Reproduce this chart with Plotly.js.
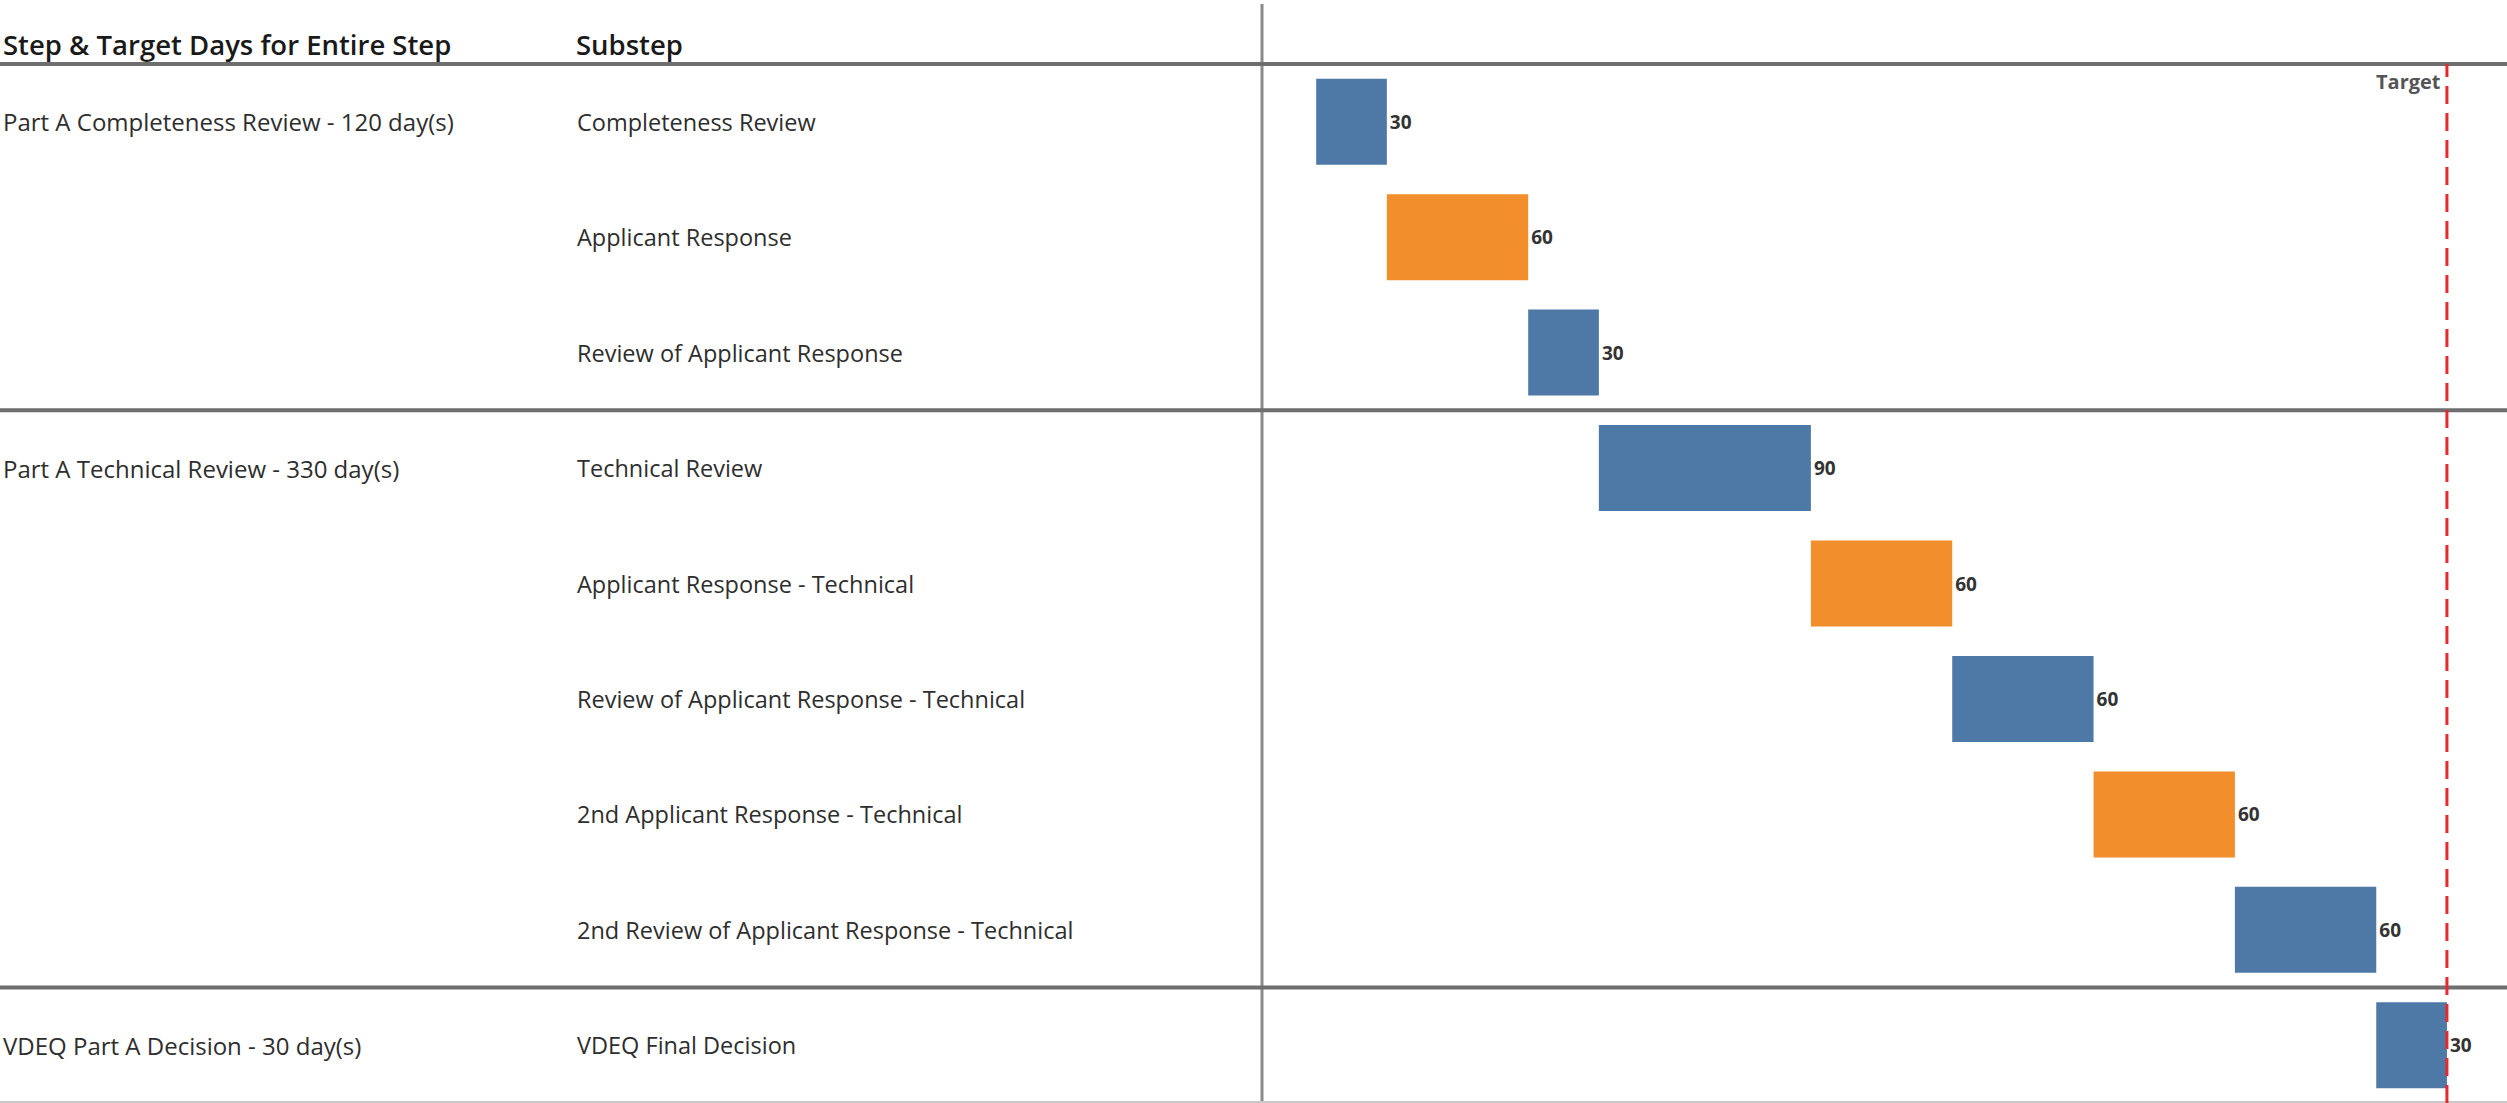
<!DOCTYPE html>
<html>
<head>
<meta charset="utf-8">
<script src="https://cdn.plot.ly/plotly-3.0.1.min.js"></script>
<style>
html,body{margin:0;padding:0;background:#fff;}
#chart{width:2507px;height:1103px;}
</style>
</head>
<body>
<div id="chart"></div>
<script>
// ---- data ----
const steps = ["Part A Completeness Review - 120 day(s)", "Part A Technical Review - 330 day(s)", "VDEQ Part A Decision - 30 day(s)"];
const stepTargetDays = [120, 330, 30];
const stepSubstepCounts = [3, 5, 1];
const substeps = [
  "Completeness Review",
  "Applicant Response",
  "Review of Applicant Response",
  "Technical Review",
  "Applicant Response - Technical",
  "Review of Applicant Response - Technical",
  "2nd Applicant Response - Technical",
  "2nd Review of Applicant Response - Technical",
  "VDEQ Final Decision"
];
const durations = [30, 60, 30, 90, 60, 60, 60, 60, 30];
const actor = ["DEQ", "Applicant", "DEQ", "DEQ", "Applicant", "DEQ", "Applicant", "DEQ", "DEQ"];
const headers = ["Step & Target Days for Entire Step", "Substep"];
const targetLabel = "Target";

// ---- derived ----
const starts = [];
let acc = 0;
durations.forEach(d => { starts.push(acc); acc += d; });
const target = stepTargetDays.reduce((a, b) => a + b, 0);
const colorMap = {DEQ: "#4e79a7", Applicant: "#f28e2b"};
const FONT = "Open Sans";
const W = 2507, H = 1103, L = 1262, T = 64;
const plotW = W - L, plotH = H - T;
const n = substeps.length;
const pxX = px => (px - L) / plotW;        // pixel -> paper x
const pxY = py => 1 - (py - T) / plotH;    // pixel -> paper y

const trace = {
  type: "bar",
  orientation: "h",
  y: substeps,
  x: durations,
  base: starts,
  width: 0.745,
  marker: {color: actor.map(a => colorMap[a]), line: {width: 0}},
  text: durations.map(String),
  textposition: "outside",
  constraintext: "none",
  cliponaxis: false,
  textfont: {family: FONT, size: 19, color: "#333333", weight: 700},
  hoverinfo: "none"
};

const annotations = [];
// headers
annotations.push({xref: "paper", yref: "paper", x: pxX(1), y: pxY(45), xanchor: "left", yanchor: "middle",
  text: headers[0], showarrow: false, font: {family: FONT, size: 27.5, color: "#1a1a1a", weight: 600}});
annotations.push({xref: "paper", yref: "paper", x: pxX(574), y: pxY(45), xanchor: "left", yanchor: "middle",
  text: headers[1], showarrow: false, font: {family: FONT, size: 27.5, color: "#1a1a1a", weight: 600}});
// substep labels
substeps.forEach(s => annotations.push({xref: "paper", yref: "y", x: pxX(575), y: s, xanchor: "left", yanchor: "middle",
  text: s, showarrow: false, font: {family: FONT, size: 23.5, color: "#2e2e2e"}}));
// step labels
let row = 0;
steps.forEach((s, i) => {
  annotations.push({xref: "paper", yref: "y", x: pxX(1), y: substeps[row], xanchor: "left", yanchor: "middle",
    text: s, showarrow: false, font: {family: FONT, size: 24, color: "#2e2e2e"}});
  row += stepSubstepCounts[i];
});
// target label
annotations.push({xref: "x", yref: "paper", x: target, y: 1, xanchor: "right", yanchor: "top", xshift: -4, yshift: -2,
  text: targetLabel, showarrow: false, font: {family: FONT, size: 20, color: "#555555", weight: 700}});

const shapes = [];
// vertical divider
shapes.push({type: "line", xref: "paper", yref: "paper", x0: 0, x1: 0, y0: 0, y1: pxY(4), line: {color: "#8a8a8a", width: 3}, layer: "above"});
// header line
shapes.push({type: "line", xref: "paper", yref: "paper", x0: pxX(0), x1: 1, y0: 1, y1: 1, line: {color: "#6e6e6e", width: 4}, layer: "above"});
// section separators
let cum = 0;
stepSubstepCounts.slice(0, -1).forEach(c => {
  cum += c;
  const yp = 1 - cum / n;
  shapes.push({type: "line", xref: "paper", yref: "paper", x0: pxX(0), x1: 1, y0: yp, y1: yp, line: {color: "#6e6e6e", width: 4}, layer: "above"});
});
// bottom line
shapes.push({type: "line", xref: "paper", yref: "paper", x0: pxX(0), x1: 1, y0: pxY(1102), y1: pxY(1102), line: {color: "#c8c8c8", width: 2}, layer: "above"});
// target line
shapes.push({type: "line", xref: "x", yref: "paper", x0: target, x1: target, y0: 0, y1: 1, line: {color: "#e8282f", width: 3, dash: "18px,9px"}, layer: "above"});

const layout = {
  width: W, height: H,
  margin: {l: L, r: 0, t: T, b: 0, pad: 0},
  paper_bgcolor: "#ffffff", plot_bgcolor: "#ffffff",
  showlegend: false,
  xaxis: {range: [-23, 505.5], showgrid: false, zeroline: false, showticklabels: false, ticks: "", showline: false, fixedrange: true},
  yaxis: {type: "category", categoryorder: "array", categoryarray: substeps, range: [n - 0.5, -0.5], showgrid: false, zeroline: false,
    showticklabels: false, ticks: "", showline: false, fixedrange: true},
  annotations: annotations,
  shapes: shapes,
  font: {family: FONT}
};

Plotly.newPlot("chart", [trace], layout, {displayModeBar: false, staticPlot: true});
</script>
</body>
</html>
